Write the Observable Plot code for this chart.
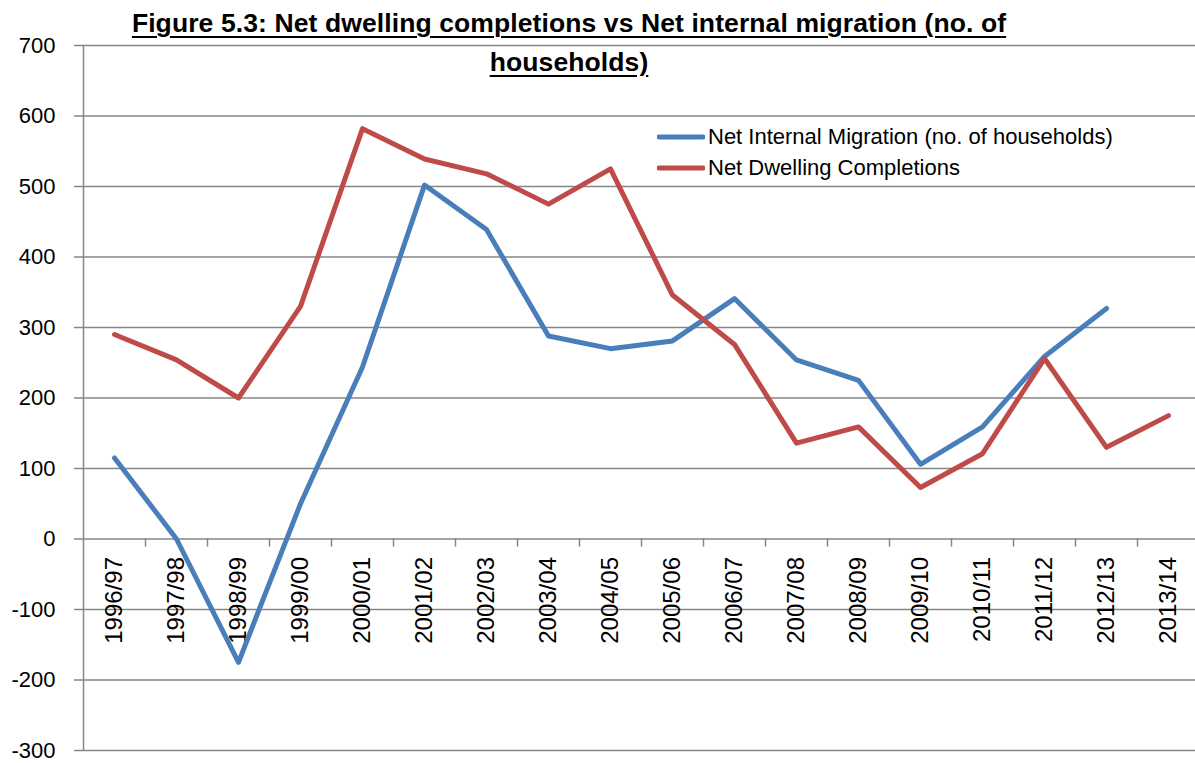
<!DOCTYPE html>
<html>
<head>
<meta charset="utf-8">
<script src="https://cdn.jsdelivr.net/npm/d3@7"></script>
<script src="https://cdn.jsdelivr.net/npm/@observablehq/plot@0.6"></script>
<style>
  html, body { margin: 0; padding: 0; background: #fff; }
  #wrap { position: relative; width: 1195px; height: 763px; overflow: hidden; font-family: "Liberation Sans", Arial, sans-serif; }
  #title { position: absolute; left: 0; top: 4px; width: 1138px; text-align: center; font-weight: bold; font-size: 26.5px; line-height: 39px; text-decoration: underline; text-decoration-thickness: 2px; text-underline-offset: 4px; color: #000; letter-spacing: 0.1px; }
  #legend { position: absolute; left: 657px; top: 121px; font-size: 22px; color: #000; }
  #legend .row { display: flex; align-items: center; height: 31px; }
  #legend svg { display: block; margin-right: 3px; }
</style>
</head>
<body>
<div id="wrap">
  <div id="chart"></div>
  <div id="title">Figure 5.3: Net dwelling completions vs Net internal migration (no. of<br>households)</div>
  <div id="legend"></div>
</div>
<script>
// Financial years on the category axis
const years = ["1996/97","1997/98","1998/99","1999/00","2000/01","2001/02","2002/03","2003/04","2004/05","2005/06","2006/07","2007/08","2008/09","2009/10","2010/11","2011/12","2012/13","2013/14"];

// Net internal migration, number of households (no figure for 2013/14)
const migration = [115, 0, -175, 50, 244, 502, 439, 288, 270, 281, 341, 254, 225, 106, 159, 259, 327, null];

// Net dwelling completions
const completions = [290, 254, 200, 330, 582, 539, 518, 475, 525, 346, 276, 136, 159, 73, 121, 256, 130, 175];

const yTicks = [-300, -200, -100, 0, 100, 200, 300, 400, 500, 600, 700];

const seriesNames = ["Net Internal Migration (no. of households)", "Net Dwelling Completions"];
const seriesColors = ["#4A7EBB", "#BE4B48"];

const rows = [];
years.forEach((yr, i) => {
  if (migration[i] != null) rows.push({i, year: yr, series: seriesNames[0], value: migration[i]});
});
years.forEach((yr, i) => {
  if (completions[i] != null) rows.push({i, year: yr, series: seriesNames[1], value: completions[i]});
});
const cats = years.map((year, i) => ({i, year}));
const bounds = d3.range(years.length - 1).map(i => i + 0.5);

const W = 1195, H = 763;
const mTop = 45, mBottom = 13, mLeft = 83;
const plotH = H - mTop - mBottom;
const unitsPerPx = (yTicks[yTicks.length - 1] - yTicks[0]) / plotH;
const gray = "#868686";

const chart = Plot.plot({
  width: W,
  height: H,
  marginTop: mTop,
  marginBottom: mBottom,
  marginLeft: mLeft,
  marginRight: 0,
  style: {fontFamily: "'Liberation Sans', Arial, sans-serif", background: "white"},
  x: {type: "linear", domain: [-0.5, years.length - 0.5], range: [mLeft, W + 4], axis: null},
  y: {domain: [yTicks[0], yTicks[yTicks.length - 1]], axis: null},
  color: {domain: seriesNames, range: seriesColors},
  marks: [
    Plot.gridY(yTicks, {stroke: gray, strokeOpacity: 1, strokeWidth: 1.5}),
    Plot.axisY(yTicks, {
      anchor: "left", tickSize: 9, tickPadding: 19, fontSize: 22,
      stroke: gray, strokeWidth: 1.5, fill: "black", tickFormat: d => String(d), label: null
    }),
    Plot.ruleX([-0.5], {stroke: gray, strokeWidth: 1.5}),
    Plot.ruleX(bounds, {y1: 0, y2: -8 * unitsPerPx, stroke: gray, strokeWidth: 1.5}),
    Plot.text(cats, {
      x: "i", y: 0, text: "year", rotate: -90, textAnchor: "end", lineAnchor: "middle",
      dy: 18, fontSize: 24, fill: "black"
    }),
    Plot.line(rows, {
      x: "i", y: "value", z: "series", stroke: "series",
      strokeWidth: 5, strokeLinejoin: "round", strokeLinecap: "round"
    })
  ]
});
document.getElementById("chart").appendChild(chart);

// Legend
const legend = d3.select("#legend");
seriesNames.forEach((name, k) => {
  const row = legend.append("div").attr("class", "row");
  const sw = row.append("svg").attr("width", 48).attr("height", 10);
  sw.append("line").attr("x1", 2).attr("x2", 46).attr("y1", 5).attr("y2", 5)
    .attr("stroke", seriesColors[k]).attr("stroke-width", 5).attr("stroke-linecap", "round");
  row.append("span").text(name);
});
</script>
</body>
</html>
